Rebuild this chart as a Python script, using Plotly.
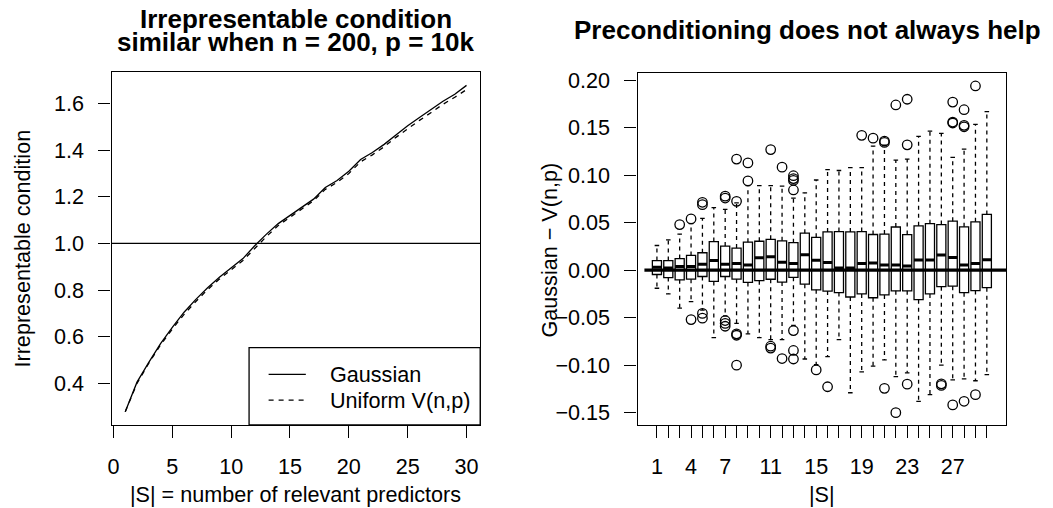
import plotly.graph_objects as go

# ---------------- data: left panel ----------------
S_left = list(range(1, 31))
gaussian = [0.278, 0.405, 0.490, 0.570, 0.640, 0.705, 0.760, 0.810, 0.855, 0.895,
            0.935, 0.990, 1.040, 1.085, 1.120, 1.155, 1.190, 1.240, 1.270, 1.310,
            1.360, 1.390, 1.425, 1.465, 1.505, 1.540, 1.575, 1.610, 1.640, 1.678]
uniform = [0.278, 0.400, 0.486, 0.565, 0.633, 0.696, 0.751, 0.802, 0.847, 0.888,
           0.927, 0.978, 1.030, 1.077, 1.113, 1.148, 1.183, 1.232, 1.262, 1.300,
           1.350, 1.380, 1.415, 1.455, 1.493, 1.528, 1.562, 1.597, 1.627, 1.660]
left_xticks = [0, 5, 10, 15, 20, 25, 30]
left_yticks = [0.4, 0.6, 0.8, 1.0, 1.2, 1.4, 1.6]
reference_level = 1.0

# ---------------- data: right panel (boxplot stats) ----------------
S_right = list(range(1, 31))
q3 = [0.0101, 0.0101, 0.0122, 0.0156, 0.0184, 0.0302, 0.0254, 0.0233, 0.0295, 0.0305,
      0.0325, 0.0309, 0.0290, 0.0390, 0.0346, 0.0403, 0.0407, 0.0403, 0.0407, 0.0376,
      0.0380, 0.0455, 0.0375, 0.0467, 0.0490, 0.0480, 0.0516, 0.0457, 0.0509, 0.0587]
median = [0.0030, 0.0024, 0.0038, 0.0038, 0.0063, 0.0101, 0.0063, 0.0070, 0.0055, 0.0130,
          0.0142, 0.0085, 0.0070, 0.0163, 0.0105, 0.0082, 0.0022, 0.0024, 0.0070, 0.0075,
          0.0056, 0.0056, 0.0044, 0.0108, 0.0108, 0.0160, 0.0134, 0.0054, 0.0071, 0.0111]
q1 = [-0.0045, -0.0077, -0.0101, -0.0094, -0.0066, -0.0118, -0.0066, -0.0094, -0.0129, -0.0110,
      -0.0095, -0.0125, -0.0075, -0.0147, -0.0207, -0.0220, -0.0235, -0.0282, -0.0250, -0.0290,
      -0.0260, -0.0217, -0.0217, -0.0310, -0.0250, -0.0173, -0.0168, -0.0236, -0.0214, -0.0184]
whisker_hi = [0.026, 0.032, 0.038, 0.049, 0.0546, 0.066, 0.064, 0.071, 0.089, 0.089,
              0.089, 0.0885, 0.076, 0.0815, 0.095, 0.106, 0.105, 0.108, 0.108, 0.1307,
              0.1317, 0.116, 0.117, 0.141, 0.1465, 0.144, 0.1187, 0.1275, 0.1535, 0.167]
whisker_lo = [-0.019, -0.025, -0.040, -0.033, -0.042, -0.071, -0.048, -0.056, -0.067, -0.071,
              -0.073, -0.073, -0.058, -0.0935, -0.0995, -0.091, -0.073, -0.129, -0.107, -0.101,
              -0.0945, -0.112, -0.108, -0.138, -0.131, -0.100, -0.1155, -0.1145, -0.1164, -0.110]
outlier_S = [3, 4, 5, 5, 7, 7, 8, 8, 9, 9, 11, 12, 13, 13, 13, 13,
             19, 20, 21, 21, 22, 23, 23, 27, 27, 27, 28, 28, 28, 29,
             4, 5, 5, 7, 7, 7, 8, 8, 8, 11, 11, 12, 13, 13, 13,
             15, 16, 21, 22, 23, 26, 26, 27, 28, 29]
outlier_val = [0.048, 0.054, 0.0715, 0.069, 0.078, 0.076, 0.117, 0.0725, 0.113, 0.094,
               0.127, 0.1085, 0.0995, 0.0965, 0.0945, 0.0845,
               0.142, 0.139, 0.136, 0.1345, 0.174, 0.180, 0.132, 0.177, 0.156, 0.155,
               0.169, 0.1525, 0.151, 0.194,
               -0.052, -0.0455, -0.0505, -0.053, -0.056, -0.059, -0.067, -0.0685, -0.100,
               -0.080, -0.082, -0.093, -0.0636, -0.0845, -0.0935,
               -0.105, -0.1227, -0.1244, -0.150, -0.120, -0.1196, -0.1213, -0.1418, -0.138, -0.131]
right_tick_labels = {1: "1", 4: "4", 7: "7", 11: "11", 15: "15", 19: "19", 23: "23", 27: "27"}
right_yticks = [-0.15, -0.10, -0.05, 0.00, 0.05, 0.10, 0.15, 0.20]

# ---------------- styling ----------------
FONT = "Liberation Sans, Arial, Helvetica, sans-serif"
FS = 21.6
TFS = 26
LW = 1.3
BOX_W = 0.8
STAPLE_W = 0.4
W, H = 1053, 508


def px_x(p):
    return p / W


def px_y(p):
    return 1 - p / H


fig = go.Figure()

# left panel curves
fig.add_trace(go.Scatter(x=S_left, y=gaussian, mode="lines",
                         line=dict(color="black", width=LW), xaxis="x", yaxis="y",
                         showlegend=False, hoverinfo="skip"))
fig.add_trace(go.Scatter(x=S_left, y=uniform, mode="lines",
                         line=dict(color="black", width=LW, dash="5px,5px"),
                         xaxis="x", yaxis="y", showlegend=False, hoverinfo="skip"))

# right panel: boxes
fig.add_trace(go.Bar(x=S_right, y=[a - b for a, b in zip(q3, q1)], base=q1, width=BOX_W,
                     marker=dict(color="white", line=dict(color="black", width=LW)),
                     xaxis="x2", yaxis="y2", showlegend=False, hoverinfo="skip"))

# whiskers (dashed)
wx, wy = [], []
for s, a, b, lo, hi in zip(S_right, q1, q3, whisker_lo, whisker_hi):
    wx += [s, s, None, s, s, None]
    wy += [b, hi, None, a, lo, None]
fig.add_trace(go.Scatter(x=wx, y=wy, mode="lines",
                         line=dict(color="black", width=LW, dash="4px,4px"),
                         xaxis="x2", yaxis="y2", showlegend=False, hoverinfo="skip"))

# staples
sx, sy = [], []
for s, lo, hi in zip(S_right, whisker_lo, whisker_hi):
    sx += [s - STAPLE_W / 2, s + STAPLE_W / 2, None, s - STAPLE_W / 2, s + STAPLE_W / 2, None]
    sy += [hi, hi, None, lo, lo, None]
fig.add_trace(go.Scatter(x=sx, y=sy, mode="lines", line=dict(color="black", width=LW),
                         xaxis="x2", yaxis="y2", showlegend=False, hoverinfo="skip"))

# medians
mx, my = [], []
for s, m in zip(S_right, median):
    mx += [s - BOX_W / 2, s + BOX_W / 2, None]
    my += [m, m, None]
fig.add_trace(go.Scatter(x=mx, y=my, mode="lines", line=dict(color="black", width=3),
                         xaxis="x2", yaxis="y2", showlegend=False, hoverinfo="skip"))

# outliers
fig.add_trace(go.Scatter(x=outlier_S, y=outlier_val, mode="markers",
                         marker=dict(symbol="circle-open", size=9.5, color="black",
                                     line=dict(color="black", width=LW)),
                         xaxis="x2", yaxis="y2", showlegend=False, hoverinfo="skip"))

shapes = [
    dict(type="line", xref="x domain", yref="y", x0=0, x1=1, y0=reference_level,
         y1=reference_level, line=dict(color="black", width=LW), layer="above"),
    dict(type="line", xref="x2", yref="y2", x0=-0.1, x1=31.7, y0=0, y1=0,
         line=dict(color="black", width=3.3), layer="above"),
    dict(type="rect", xref="x domain", yref="y domain", x0=0.373, x1=1, y0=0, y1=0.219,
         line=dict(color="black", width=LW), fillcolor="white", layer="above"),
    dict(type="line", xref="x domain", yref="y domain", x0=0.426, x1=0.527, y0=0.143, y1=0.143,
         line=dict(color="black", width=LW), layer="above"),
    dict(type="line", xref="x domain", yref="y domain", x0=0.426, x1=0.527, y0=0.070, y1=0.070,
         line=dict(color="black", width=LW, dash="5px,5px"), layer="above"),
]

ann_font = dict(family=FONT, size=FS, color="black")
title_font = dict(family=FONT, size=TFS, color="black")
annotations = [
    dict(text="<b>Irrepresentable condition</b>", x=px_x(293), y=px_y(14), xref="paper", yref="paper",
         showarrow=False, font=title_font, xanchor="center", yanchor="middle"),
    dict(text="<b>similar when n = 200, p = 10k</b>", x=px_x(293), y=px_y(37), xref="paper", yref="paper",
         showarrow=False, font=title_font, xanchor="center", yanchor="middle"),
    dict(text="<b>Preconditioning does not always help</b>", x=px_x(807), y=px_y(25), xref="paper",
         yref="paper", showarrow=False, font=title_font, xanchor="center", yanchor="middle"),
    dict(text="Irrepresentable condition", x=px_x(19), y=px_y(246), xref="paper", yref="paper",
         showarrow=False, font=ann_font, textangle=-90, xanchor="center", yanchor="middle"),
    dict(text="Gaussian \u2212 V(n,p)", x=px_x(548), y=px_y(247), xref="paper", yref="paper",
         showarrow=False, font=ann_font, textangle=-90, xanchor="center", yanchor="middle"),
    dict(text="|S| = number of relevant predictors", x=px_x(293), y=px_y(494), xref="paper",
         yref="paper", showarrow=False, font=ann_font, xanchor="center", yanchor="middle"),
    dict(text="|S|", x=px_x(821), y=px_y(494), xref="paper", yref="paper",
         showarrow=False, font=ann_font, xanchor="center", yanchor="middle"),
    dict(text="Gaussian", x=0.588, y=0.143, xref="x domain", yref="y domain",
         showarrow=False, font=ann_font, xanchor="left", yanchor="middle"),
    dict(text="Uniform V(n,p)", x=0.588, y=0.070, xref="x domain", yref="y domain",
         showarrow=False, font=ann_font, xanchor="left", yanchor="middle"),
]

axis_common = dict(showline=True, mirror=True, linecolor="black", linewidth=LW,
                   ticks="outside", ticklen=12, tickwidth=LW, tickcolor="black",
                   showgrid=False, zeroline=False, tickfont=dict(family=FONT, size=FS, color="black"))

fig.update_layout(
    width=W, height=H,
    margin=dict(l=0, r=0, t=0, b=0),
    paper_bgcolor="white", plot_bgcolor="white",
    font=dict(family=FONT, size=FS, color="black"),
    showlegend=False,
    barmode="overlay",
    xaxis=dict(domain=[px_x(108), px_x(478)], range=[-0.16, 31.16], tickvals=left_xticks,
               anchor="y", ticklabelstandoff=10, **axis_common),
    yaxis=dict(domain=[px_y(424), px_y(68)], range=[0.222, 1.734], tickvals=left_yticks,
               tickformat=".1f", anchor="x", ticklabelstandoff=10, **axis_common),
    xaxis2=dict(domain=[px_x(636), px_x(1006)], range=[-0.7, 31.7], tickvals=S_right,
                ticktext=[right_tick_labels.get(s, "") for s in S_right],
                anchor="y2", ticklabelstandoff=10, **axis_common),
    yaxis2=dict(domain=[px_y(424.3), px_y(69)], range=[-0.1631, 0.2073], tickvals=right_yticks,
                tickformat=".2f", anchor="x2", ticklabelstandoff=10, **axis_common),
    shapes=shapes,
    annotations=annotations,
)

fig.write_html("out.html", config={"displayModeBar": False},
               post_script="document.body.style.margin='0';document.body.style.overflow='hidden';")
